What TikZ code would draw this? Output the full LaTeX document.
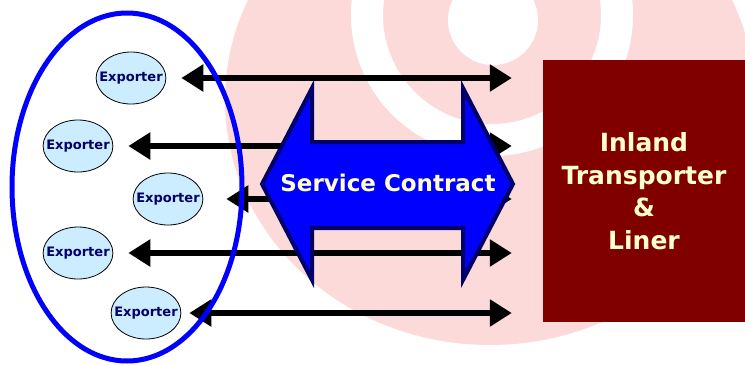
\documentclass[tikz,border=0pt]{standalone}
\usepackage{fontspec}
\setmainfont{DejaVu Sans}
\usepackage{tikz}
\usetikzlibrary{arrows.meta, shapes.geometric}
\definecolor{wmpink}{RGB}{253,218,218}
\definecolor{exfill}{RGB}{204,236,255}
\definecolor{exnavy}{RGB}{0,0,102}
\definecolor{linerred}{RGB}{128,0,0}
\definecolor{cream}{RGB}{255,255,204}
\tikzset{link/.style={<->, >={Triangle[length=22pt,width=26pt]}, line width=6pt,
    shorten >=31pt}}
\tikzset{exporter/.style={shape=ellipse, draw, line width=.8pt, fill=exfill,
    text=exnavy, inner xsep=-7pt, inner ysep=0pt, minimum width=69pt,
    minimum height=52pt, font=\fontsize{13}{15}\selectfont\bfseries}}

\begin{document}
\begin{tikzpicture}[x=1pt, y=-1pt]
      \useasboundingbox (0,0) rectangle (745,365);
      % faint logo behind everything
      \fill[wmpink] (490,100) ellipse [x radius=265pt, y radius=245pt];
      \draw[white, line width=32pt] (492,15) circle (125pt);
      \fill[white] (493,20) circle (45pt);
      \node[fill=linerred, text=cream, minimum width=202pt, minimum height=262pt,
        align=center, font=\fontsize{25}{32.5}\selectfont\bfseries]
        (box) at (644,191) {Inland\\Transporter\\\&\\Liner};
      \node[exporter] (e1) at (131,78) {Exporter};
      \node[exporter] (e2) at (78,146) {Exporter};
      \node[exporter] (e3) at (168,199) {Exporter};
      \node[exporter] (e4) at (78,253) {Exporter};
      \node[exporter] (e5) at (146,313) {Exporter};
      \foreach \n/\s in {1/15pt, 2/15pt, 3/23pt, 4/15pt, 5/8pt}
        \draw[link, shorten <=\s] (e\n.east) -- (e\n.east -| box.west);
      \draw[blue, line width=5pt] (127,187) ellipse [x radius=115pt, y radius=174pt];
      % the contract arrow
      \path[fill=blue, draw=exnavy, line width=4pt, line join=miter]
        (262,184) -- (312,88) -- (312,142) -- (463,142) -- (463,88) -- (513,184)
        -- (463,280) -- (463,228) -- (312,228) -- (312,280) -- cycle;
      \node[text=cream, font=\fontsize{23}{27}\selectfont\bfseries]
        (contract) at (388,183) {Service Contract};
    \end{tikzpicture}
\end{document}
